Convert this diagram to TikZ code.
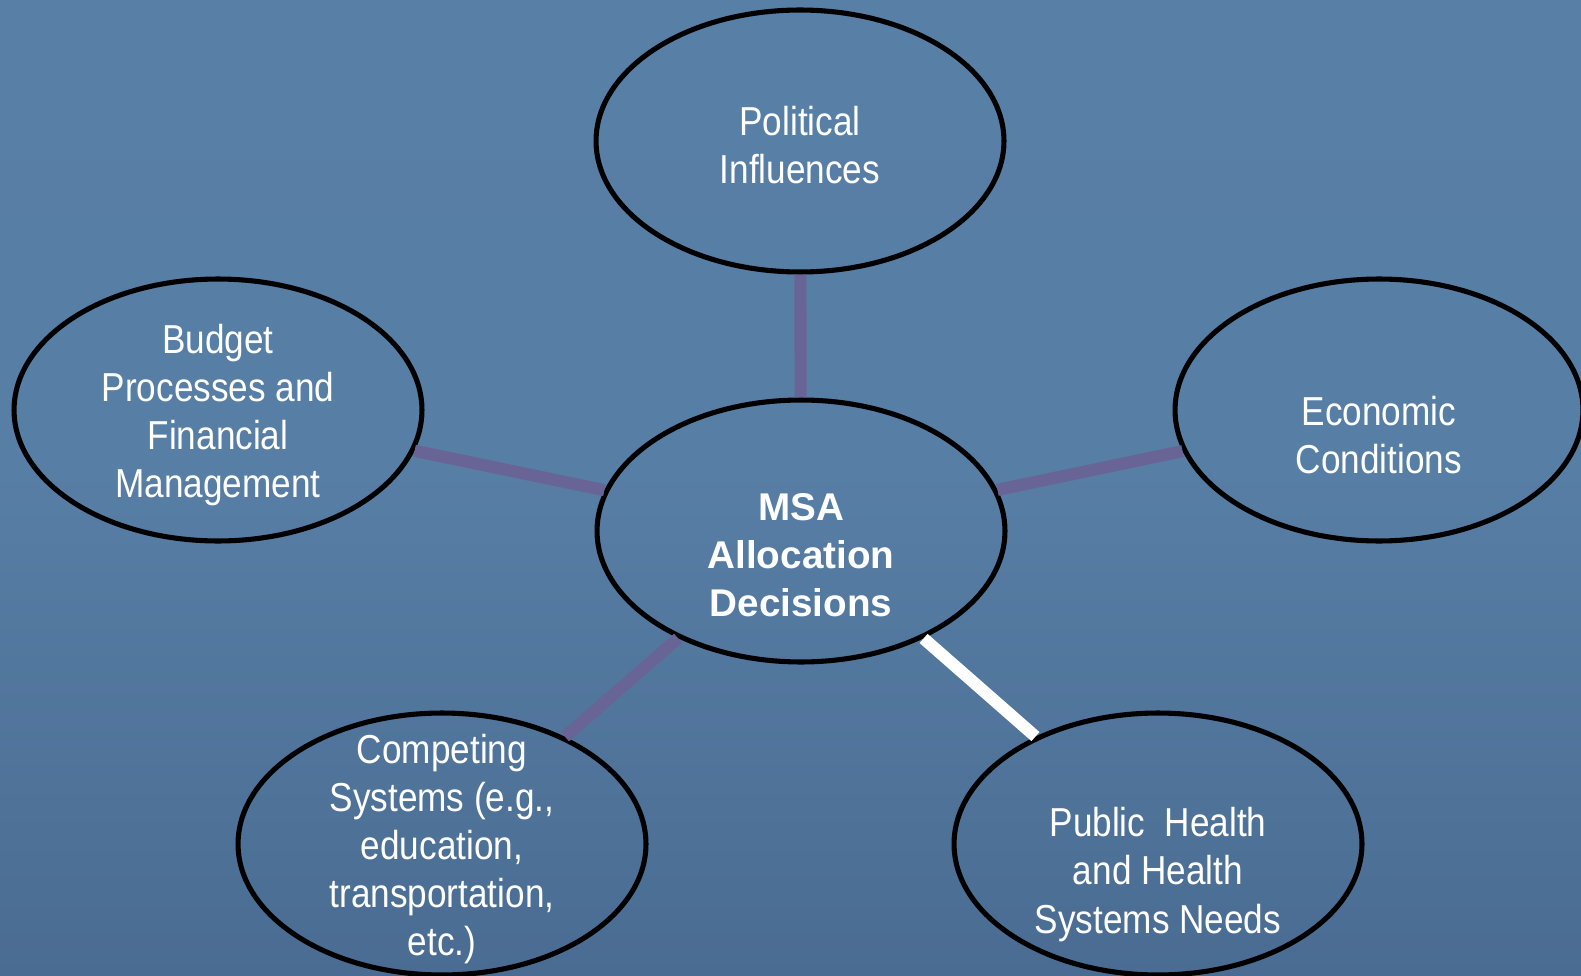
\documentclass[tikz,border=0pt]{standalone}
\usepackage{fontspec}
\setmainfont{Liberation Sans}
\newfontfamily\narrowfont[FakeStretch=0.87]{Liberation Sans}
\usetikzlibrary{shapes.geometric}

\definecolor{slatetop}{RGB}{88,127,166}
\definecolor{slatebot}{RGB}{74,108,146}
\definecolor{linkpurple}{RGB}{104,100,150}

\begin{document}
\begin{tikzpicture}[x=0.02cm,y=0.02cm,
    bubble/.style={ellipse,draw=black,line width=2.9pt,inner sep=0pt,
                   minimum width=8.16cm,minimum height=5.24cm},
    txt/.style={text=white,align=center,
                font=\narrowfont\fontsize{23}{27.4}\selectfont},
    bold txt/.style={text=white,align=center,
                font=\bfseries\fontsize{22}{27.4}\selectfont},
    link/.style={draw=linkpurple,line width=6.9pt},
    hot link/.style={draw=white,line width=6.9pt}]

  % backdrop
  \shade[top color=slatetop,bottom color=slatebot,middle color=slatetop!92!slatebot]
    (0,0) rectangle (1581,975);
  \useasboundingbox (0,0) rectangle (1581,975);

  \node[bubble] (msa)  at (801,444)  {};
  \node[bubble] (pol)  at (800,834)  {};
  \node[bubble] (bud)  at (218,565)  {};
  \node[bubble] (eco)  at (1379,565) {};
  \node[bubble] (comp) at (442,131)  {};
  \node[bubble] (pub)  at (1158,131) {};

  % spokes, clipped at the ellipse borders
  \path (msa) edge[link]     (pol)
              edge[link]     (bud)
              edge[link]     (eco)
              edge[link]     (comp)
              edge[hot link] (pub);

  \node[bold txt] (msa-t)  at ([yshift=-0.48cm]msa.center)  {MSA\\Allocation\\Decisions};
  \node[txt]      (pol-t)  at ([yshift=-0.08cm]pol.center)  {Political\\Influences};
  \node[txt]      (bud-t)  at ([yshift=-0.1cm]bud.center)   {Budget\\Processes and\\Financial\\Management};
  \node[txt]      (eco-t)  at ([yshift=-0.5cm]eco.center)   {Economic\\Conditions};
  \node[txt]      (comp-t) at ([yshift=-0.1cm]comp.center)  {Competing\\Systems (e.g.,\\education,\\transportation,\\etc.)};
  \node[txt]      (pub-t)  at ([yshift=-0.61cm]pub.center)  {Public\ \ Health\\and Health\\Systems Needs};
\end{tikzpicture}
\end{document}
